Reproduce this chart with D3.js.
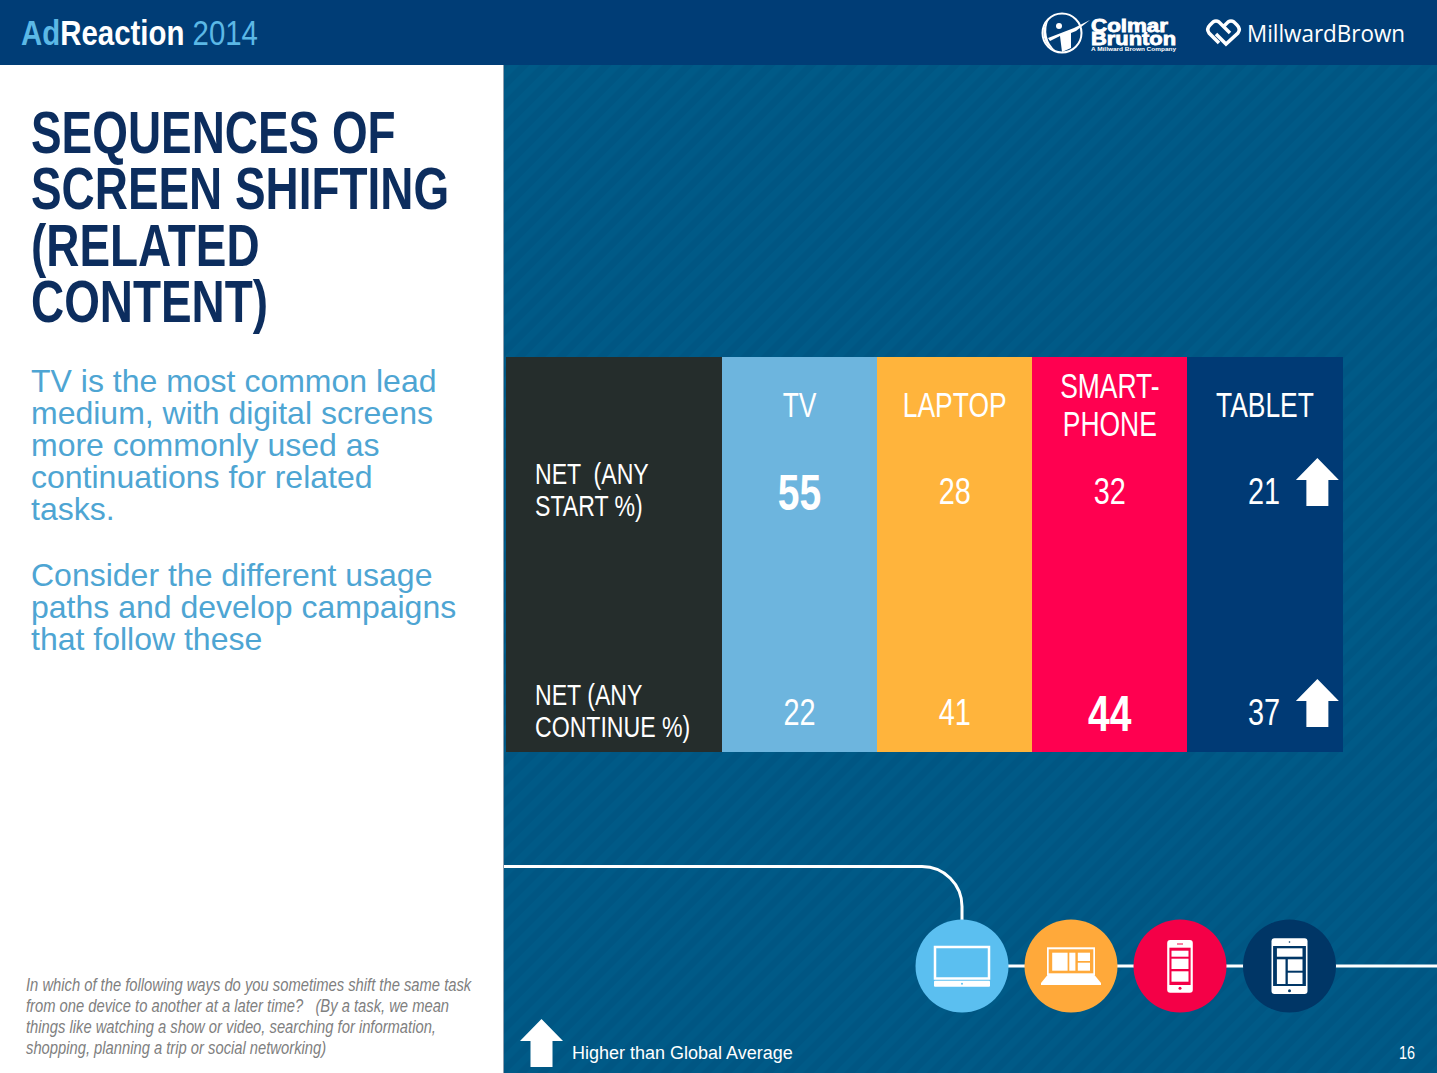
<!DOCTYPE html>
<html>
<head>
<meta charset="utf-8">
<script src="https://cdn.jsdelivr.net/npm/d3@7"></script>
<style>
html, body { margin: 0; padding: 0; background: #fff; overflow: hidden; }
svg { display: block; }
text { font-family: "Liberation Sans", sans-serif; white-space: pre; }
</style>
</head>
<body>
<script>
const width = 1437, height = 1073;

// table data
const devices = ["TV", "LAPTOP", "SMART-\nPHONE", "TABLET"];
const deviceColours = ["#6db5de", "#ffb43c", "#ff0050", "#003a75"];
const rowLabels = [["NET  (ANY", "START %)"], ["NET (ANY", "CONTINUE %)"]];
const netStart = [55, 28, 32, 21];
const netContinue = [22, 41, 44, 37];
const aboveGlobal = ["TABLET"];

// slide copy
const titleLines = ["SEQUENCES OF", "SCREEN SHIFTING", "(RELATED", "CONTENT)"];
const bodyLines = ["TV is the most common lead", "medium, with digital screens", "more commonly used as", "continuations for related", "tasks."];
const bodyLines2 = ["Consider the different usage", "paths and develop campaigns", "that follow these"];
const noteLines = [
    "In which of the following ways do you sometimes shift the same task",
    "from one device to another at a later time?   (By a task, we mean",
    "things like watching a show or video, searching for information,",
    "shopping, planning a trip or social networking)"
];

const svg = d3.select("body").append("svg")
    .attr("width", width)
    .attr("height", height);

const stripes = svg.append("defs").append("pattern")
    .attr("id", "stripes")
    .attr("width", 14.5).attr("height", 14.5)
    .attr("patternUnits", "userSpaceOnUse")
    .attr("patternTransform", "rotate(45)");
stripes.append("rect").attr("width", 14.5).attr("height", 14.5).attr("fill", "#005683");
stripes.append("rect").attr("width", 7.25).attr("height", 14.5).attr("fill", "#005a87");

svg.append("rect").attr("width", width).attr("height", height).attr("fill", "white");

// right hand panel + header
svg.append("rect").attr("x", 504).attr("y", 65).attr("width", width - 504).attr("height", height - 65)
    .attr("fill", "url(#stripes)");
svg.append("rect").attr("x", 503).attr("y", 65).attr("width", 1).attr("height", height - 65).attr("fill", "#8d9fb0");
svg.append("rect").attr("width", width).attr("height", 65).attr("fill", "#003d76");

// no narrow font installed, so squeeze the text sideways
function squeeze(sel, x, y, k) {
    return sel.attr("transform", `translate(${x},${y}) scale(${k},1)`);
}

const brand = squeeze(svg.append("text"), 21, 45, 0.817).attr("font-size", 36);
brand.append("tspan").text("Ad").attr("fill", "#5bb8e6").attr("font-weight", "bold");
brand.append("tspan").text("Reaction").attr("fill", "white").attr("font-weight", "bold");
brand.append("tspan").text(" 2014").attr("fill", "#5bb8e6");

// Left column text
function textBlock(lines, x, y0, step, size, fill, k) {
    return svg.append("g").selectAll("text").data(lines).enter().append("text")
        .attr("transform", (d, i) => `translate(${x},${y0 + i * step}) scale(${k},1)`)
        .attr("font-size", size)
        .attr("fill", fill)
        .text(d => d);
}

textBlock(titleLines, 31, 153, 56.3, 60, "#0c2d5e", 0.765).attr("font-weight", "bold");
textBlock(bodyLines, 31, 392, 32, 32, "#4ea5d3", 1);
textBlock(bodyLines2, 31, 586, 32, 32, "#4ea5d3", 1);
textBlock(noteLines, 26, 990.5, 21.3, 19, "#808080", 0.777).attr("font-style", "italic");

// table
const x = d3.scaleBand().domain(devices).range([722, 1342.5]);
const rowY = { head: 405, start: 492, continue: 713 };

svg.append("rect").attr("x", 506).attr("y", 357).attr("width", 216).attr("height", 395).attr("fill", "#252d2c");

svg.selectAll("rect.col").data(devices).enter().append("rect")
    .attr("class", "col")
    .attr("x", d => x(d))
    .attr("y", 357)
    .attr("width", x.bandwidth())
    .attr("height", 395)
    .attr("shape-rendering", "crispEdges")
    .attr("fill", (d, i) => deviceColours[i]);

// column heads
devices.forEach(d => {
    const parts = d.split("\n");
    parts.forEach((p, i) => {
        squeeze(svg.append("text"), x(d) + x.bandwidth() / 2, rowY.head + 12 + (i - (parts.length - 1) / 2) * 38, 0.755)
            .attr("text-anchor", "middle")
            .attr("font-size", 35)
            .attr("fill", "white")
            .text(p);
    });
});

// row labels
rowLabels.forEach((lines, r) => {
    textBlock(lines, 535, (r === 0 ? 484 : 705), 32, 30, "white", 0.77);
});

const upArrow = d3.line()([[-21.5, 0], [0, -22], [21.5, 0], [11, 0], [11, 26], [-11, 26], [-11, 0]]) + "Z";

function valueRow(values, key) {
    const maxV = d3.max(values);
    values.forEach((v, i) => {
        const d = devices[i];
        const big = v === maxV;
        squeeze(svg.append("text"), x(d) + x.bandwidth() / 2 - (aboveGlobal.includes(d) ? 1 : 0), rowY[key] + (big ? 18 : 12), 0.78)
            .attr("text-anchor", "middle")
            .attr("font-size", big ? 50 : 37)
            .attr("font-weight", big ? "bold" : "normal")
            .attr("fill", "white")
            .text(v);
        if (aboveGlobal.includes(d)) {
            svg.append("path")
                .attr("d", upArrow)
                .attr("transform", `translate(${x(d) + 130},${rowY[key] - 12})`)
                .attr("fill", "white");
        }
    });
}
valueRow(netStart, "start");
valueRow(netContinue, "continue");

// usage path line
const lineY = 966;
const iconX = [962, 1071, 1180, 1289.5];
const iconColours = ["#5bbff0", "#ffa93a", "#f40047", "#003666"];
svg.append("path")
    .attr("d", `M504,866.5 H922 A40,40 0 0 1 962,906.5 V${lineY}`)
    .attr("fill", "none").attr("stroke", "white").attr("stroke-width", 3);
svg.append("line").attr("x1", 962).attr("x2", width).attr("y1", lineY).attr("y2", lineY)
    .attr("stroke", "white").attr("stroke-width", 3);
svg.selectAll("circle.icon").data(iconX).enter().append("circle")
    .attr("class", "icon")
    .attr("cx", d => d).attr("cy", lineY).attr("r", 46.5)
    .attr("fill", (d, i) => iconColours[i]);

function rect(g, x0, y0, x1, y1, fill, rx) {
    g.append("rect").attr("x", x0).attr("y", y0).attr("width", x1 - x0).attr("height", y1 - y0).attr("fill", fill).attr("rx", rx || 0);
}

// tv icon
let g = svg.append("g").attr("transform", `translate(${iconX[0]},${lineY})`);
g.append("rect").attr("x", -27).attr("y", -19).attr("width", 54).attr("height", 31.5).attr("fill", "none").attr("stroke", "white").attr("stroke-width", 2.5);
rect(g, -28, 14.7, 28, 20.7, "white", 1);
g.append("circle").attr("cy", 17.7).attr("r", 1).attr("fill", iconColours[0]);

// laptop icon
g = svg.append("g").attr("transform", `translate(${iconX[1]},${lineY})`);
rect(g, -24, -18.7, 24, 9, "white");
rect(g, -22.3, -16.7, 22.3, 7.3, iconColours[1]);
rect(g, -18.8, -13.3, -3.4, 4.7, "white");
rect(g, -1.7, -13.3, 4.4, 4.7, "white");
rect(g, 6.8, -13.3, 19, -5, "white");
rect(g, 6.8, -3.3, 19, 4.7, "white");
g.append("path").attr("d", "M-23.5,9 H23.5 L30,17 V19 H-30 V17 Z").attr("fill", "white");

// phone icon
g = svg.append("g").attr("transform", `translate(${iconX[2]},${lineY})`);
rect(g, -12.8, -26, 12.8, 26.7, "white", 3);
rect(g, -10.6, -18.3, 10.6, 19, iconColours[2]);
rect(g, -8.5, -15.3, 8.5, -9.3, "white");
rect(g, -8.5, -7.3, 8.5, 3, "white");
rect(g, -8.5, 5.3, 8.5, 15.7, "white");
rect(g, -3, -22.5, 3, -21.5, iconColours[2]);
g.append("circle").attr("cy", 22.3).attr("r", 1.5).attr("fill", iconColours[2]);

// tablet icon
g = svg.append("g").attr("transform", `translate(${iconX[3]},${lineY})`);
rect(g, -18, -27.7, 18, 28, "white", 3);
rect(g, -16.4, -20, 16.4, 20, iconColours[3]);
rect(g, -12.6, -17.7, 13, -9.3, "white");
rect(g, -12.6, -6.7, -4, 18, "white");
rect(g, -1.7, -6.7, 13, 4.7, "white");
rect(g, -1.7, 6.7, 13, 18, "white");
g.append("circle").attr("cy", -24).attr("r", 0.8).attr("fill", iconColours[3]);
g.append("circle").attr("cy", 24.7).attr("r", 1.5).attr("fill", iconColours[3]);

// legend + page number
svg.append("path").attr("d", upArrow).attr("transform", "translate(541.5,1041)").attr("fill", "white");
svg.append("text").attr("x", 572).attr("y", 1059).attr("font-size", 18).attr("fill", "white").text("Higher than Global Average");
squeeze(svg.append("text"), 1399, 1059, 0.8).attr("font-size", 18).attr("fill", "white").text("16");

// logos, as text and rough marks
const logo = svg.append("g");
logo.append("circle").attr("cx", 1062).attr("cy", 33).attr("r", 19.5).attr("fill", "none").attr("stroke", "white").attr("stroke-width", 2);
logo.append("path").attr("d", "M1049,19 A19.5,19.5 0 0 0 1056,51 A26,26 0 0 1 1049,19 Z").attr("fill", "white");
logo.append("path").attr("d", "M1048,38 L1074,28 L1090,20 L1076,31 L1071,33 L1071,48 L1062,52 L1060,36 L1050,41 Z").attr("fill", "white");
logo.append("circle").attr("cx", 1059).attr("cy", 26).attr("r", 3).attr("fill", "white");
const wide = t => t.attr("font-weight", "bold").attr("fill", "white").attr("stroke", "white").attr("stroke-width", 0.8)
    .attr("lengthAdjust", "spacingAndGlyphs");
wide(logo.append("text")).attr("x", 1091).attr("y", 31.5).attr("font-size", 17.5).attr("textLength", 77).text("Colmar");
wide(logo.append("text")).attr("x", 1091).attr("y", 45).attr("font-size", 17.5).attr("textLength", 85).text("Brunton");
wide(logo.append("text")).attr("x", 1091).attr("y", 50.5).attr("font-size", 4.5).attr("stroke-width", 0).attr("textLength", 85).text("A Millward Brown Company");
logo.append("path")
    .attr("d", "M1219,43 L1209,33 Q1206,29 1210,25 L1213,22 Q1216,20 1219,22 L1230,33 M1216,34 L1226,44 L1238,33 Q1241,29 1237,25 L1234,22 Q1231,20 1228,22 L1223,27")
    .attr("fill", "none").attr("stroke", "white").attr("stroke-width", 3.5);
logo.append("text").attr("x", 1247).attr("y", 42).attr("font-size", 24).attr("font-weight", 500).attr("fill", "white")
    .style("font-family", '"Open Sans", sans-serif').attr("textLength", 158).attr("lengthAdjust", "spacingAndGlyphs").text("MillwardBrown");
</script>
</body>
</html>
